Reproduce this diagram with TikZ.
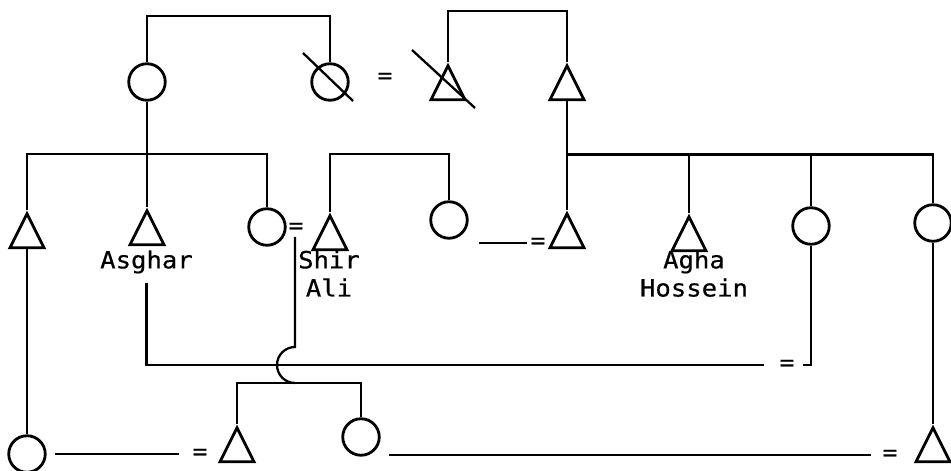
\documentclass[tikz,border=0pt]{standalone}
\usepackage{fontspec}
\setmonofont{DejaVu Sans Mono}[FakeStretch=1.08, FakeBold=0.5]
\usetikzlibrary{calc,shapes.geometric}
\tikzset{
  kin/.style={draw=black, line width=1.3pt},
  dead/.style={draw=black, line width=1.3pt},
  female/.style={circle, draw=black, line width=1.6pt, minimum size=7.3mm, inner sep=0pt},
  male/.style={isosceles triangle, shape border rotate=90, isosceles triangle stretches,
    draw=black, line width=1.6pt, minimum width=6.8mm, minimum height=6.8mm, inner sep=0pt,
    anchor=apex},
  eqs/.style={font=\ttfamily\fontsize{13}{16}\selectfont, inner sep=2pt},
  lbl/.style={font=\ttfamily\fontsize{13.5}{16}\selectfont, align=center, inner sep=0pt,
    anchor=north},
}
\begin{document}
\begin{tikzpicture}
  \useasboundingbox (0,0) rectangle (19.02,9.42);
  % ---------------- first generation ----------------
  \node[female] (gm) at (2.94,7.78) {};
  \node[female] (gmx) at (6.60,7.78) {};
  \node[eqs] (eq1) at (7.70,7.86) {=};
  \node[male] (gfx) at (8.96,8.18) {};
  \node[male] (gf) at (11.34,8.18) {};
  \coordinate (m1) at (4.77,9.10);
  \coordinate (m2) at (10.15,9.20);
  \draw[kin] (gm.north) |- (m1) -| (gmx.north);
  \draw[kin] (gfx.apex) |- (m2) -| (gf.apex);
  \draw[dead] ($(gmx)+(-0.54,0.58)$) -- ($(gmx)+(0.46,-0.38)$);
  \draw[dead] ($(gfx.apex)+(-0.72,0.24)$) -- ($(gfx.apex)+(0.54,-0.92)$);

  % ---------------- second generation ----------------
  \node[male] (b1) at (0.54,5.22) {};
  \node[male] (asghar) at (2.94,5.28) {};
  \node[female] (z1) at (5.34,4.88) {};
  \node[eqs] (eq2) at (5.92,4.86) {=};
  \node[male] (shir) at (6.60,5.18) {};
  \node[female] (z2) at (8.98,5.02) {};
  \node[eqs] (eq3) at (10.76,4.56) {=};
  \node[male] (h1) at (11.34,5.22) {};
  \node[male] (agha) at (13.78,5.16) {};
  \node[female] (z3) at (16.22,4.90) {};
  \node[female] (z4) at (18.66,4.96) {};
  \node[lbl] (asgharlbl) at (2.93,4.42) {Asghar};
  \node[lbl] (shirlbl) at (6.58,4.42) {Shir\\Ali};
  \node[lbl] (aghalbl) at (13.88,4.42) {Agha\\Hossein};
  \coordinate (s1) at (2.94,6.34);
  \coordinate (s2) at (7.80,6.34);
  \coordinate (s3) at (15.00,6.33);
  \draw[kin] (gm.south) -- (asghar.apex);
  \draw[kin] (b1.apex) |- (s1) -| (z1.north);
  \draw[kin] (shir.apex) |- (s2) -| (z2.north);
  \draw[kin] (gf.south) -- (h1.apex);
  \draw[kin] (h1.apex) |- (s3) -| (z4.north);
  \draw[kin] (agha.apex) -- (agha.apex |- s3);
  \draw[kin] (z3.north) -- (z3.north |- s3);
  \draw[kin, shorten >=6pt] (eq3.west) -- (eq3.west -| z2.east);

  % ---------------- third generation ----------------
  \coordinate (d1) at (5.90,4.68);
  \coordinate (jump) at (5.90,2.48);
  \node[eqs] (eq4) at (15.74,2.12) {=};
  \draw[kin, shorten <=5pt, shorten >=6.5pt] (asgharlbl.south) |- (eq4.west);
  \draw[kin, shorten <=2.5pt] (eq4.east) -| (z3.south);
  \draw[kin] (d1) -- (jump) arc[start angle=90, end angle=270, radius=0.36] coordinate (d2);
  \node[male] (b2) at (4.74,0.94) {};
  \node[female] (z5) at (7.22,0.68) {};
  \draw[kin] (b2.apex) |- (d2) -| (z5.north);
  \node[female] (w1) at (0.54,0.34) {};
  \node[eqs] (eq5) at (4.00,0.34) {=};
  \node[eqs] (eq6) at (17.80,0.32) {=};
  \node[male] (b3) at (18.66,0.94) {};
  \draw[kin] (b1.south) -- (w1.north);
  \draw[kin, shorten <=5pt, shorten >=5.5pt] (w1.east) -- (eq5.west);
  \draw[kin, shorten <=4.3pt, shorten >=4.5pt] (eq6.west) -- (eq6.west -| z5.east);
  \draw[kin] (z4.south) -- (b3.apex);
\end{tikzpicture}
\end{document}
